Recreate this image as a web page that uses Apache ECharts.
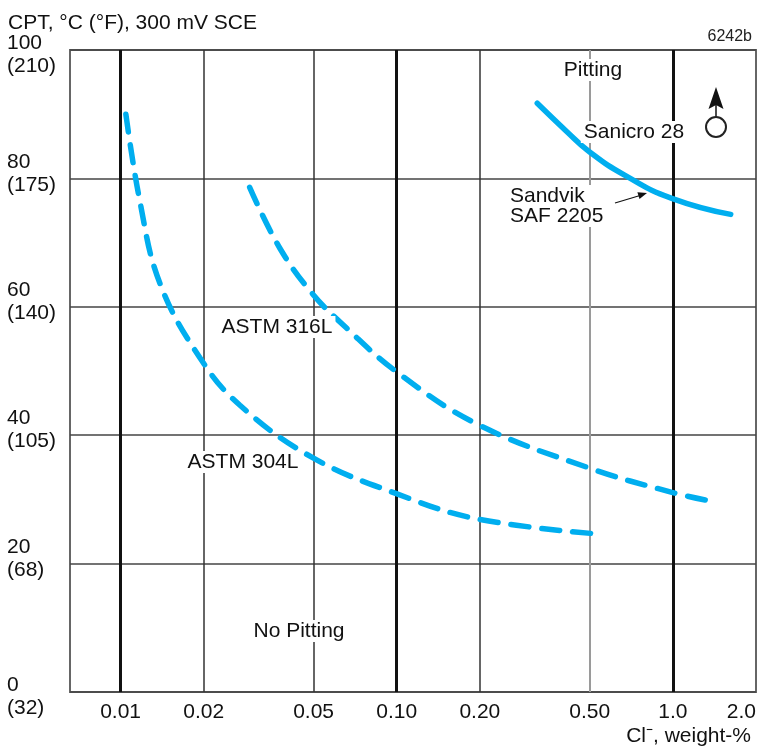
<!DOCTYPE html>
<html>
<head>
    <meta charset="utf-8">
    <script src="https://cdnjs.cloudflare.com/ajax/libs/echarts/6.0.0/echarts.min.js"></script>
</head>
<body>
    <div id="main"></div>
    <style>
html,body { margin: 0; padding: 0; background: #fff; }
#main { width: 759px; height: 749px; }
    </style>
    <script type="text/javascript">
// Cl- weight-% tick values and their labels
var xTicks = [0.01, 0.02, 0.05, 0.1, 0.2, 0.5, 1.0, 2.0];
var xTickLabels = ['0.01', '0.02', '0.05', '0.10', '0.20', '0.50', '1.0', '2.0'];
var xMin = 0.00656;
var xMax = 2.0;

// CPT in degC with the Fahrenheit equivalents
var yTicks = [0, 20, 40, 60, 80, 100];
var yTicksF = ['(32)', '(68)', '(105)', '(140)', '(175)', '(210)'];

// curves: [Cl- weight-%, CPT degC]
var astm304L = [
    [0.01045, 90.0], [0.01174, 76.5], [0.01387, 63.7], [0.01935, 52.1],
    [0.027, 44.7], [0.0496, 36.5], [0.0997, 30.9], [0.194, 27.0], [0.54, 24.6]
];
var astm316L = [
    [0.02934, 78.6], [0.03765, 69.2], [0.0496, 62.0], [0.0658, 56.7],
    [0.0997, 49.9], [0.194, 41.8], [0.497, 34.9], [0.992, 31.1], [1.35, 29.8]
];
var sanicro28 = [
    [0.3228, 91.7], [0.4106, 87.4], [0.497, 84.2], [0.676, 80.4],
    [0.991, 76.9], [1.62, 74.4]
];

var FONT = '"Liberation Sans", Arial, sans-serif';
var BLUE = '#00aeef';

function toLog(points) {
    return points.map(function (p) { return [Math.log10(p[0]), p[1]]; });
}

function xLabel(v) {
    for (var i = 0; i < xTicks.length; i++) {
        if (Math.abs(Math.log10(xTicks[i]) - v) < 1e-6) return xTickLabels[i];
    }
    return '';
}

function yLabel(v) {
    var i = yTicks.indexOf(v);
    if (i < 0) return '';
    var txt = '{a|' + v + '}\n{a|' + yTicksF[i] + '}';
    // edge labels sit a little below their line, the others a little above
    if (i === 0 || i === yTicks.length - 1) return '{s| }\n' + txt;
    return txt + '\n{s| }';
}

var vLines = xTicks.filter(function (v) { return v < xMax; }).map(function (v) {
    var lg = Math.log10(v);
    var style = { color: '#333', width: 1.5, type: 'solid' };
    if (Math.abs(lg - Math.round(lg)) < 1e-9) style = { color: '#111', width: 3, type: 'solid' };
    else if (v === 0.5) style = { color: '#9a9a9a', width: 2, type: 'solid' };
    return { xAxis: lg, lineStyle: style };
});

function note(text, x, y, align) {
    return {
        type: 'text', z: 50,
        style: {
            text: text, x: x, y: y,
            align: align || 'center', verticalAlign: 'middle',
            font: '21px ' + FONT, fill: '#111', lineHeight: 20,
            backgroundColor: '#fff', padding: [1, 3]
        }
    };
}

var option = {
    animation: false,
    title: {
        text: 'CPT, °C (°F), 300 mV SCE',
        left: 3, top: 8,
        textStyle: { fontFamily: FONT, fontSize: 21, fontWeight: 'normal', color: '#111' }
    },
    grid: {
        left: 70, top: 50, width: 687, bottom: 57,
        show: true, borderColor: '#666', borderWidth: 2
    },
    xAxis: {
        type: 'value',
        min: Math.log10(xMin), max: Math.log10(xMax),
        name: 'Cl⁻, weight-%',
        nameLocation: 'end', nameGap: -5,
        nameTextStyle: {
            fontFamily: FONT, fontSize: 21, color: '#111',
            align: 'right', verticalAlign: 'top', padding: [34, 0, 0, 0]
        },
        axisLine: { show: false },
        axisTick: { show: false },
        splitLine: { show: false },
        axisLabel: {
            customValues: xTicks.map(function (v) { return Math.log10(v); }),
            formatter: xLabel,
            margin: 10,
            alignMaxLabel: 'right',
            fontFamily: FONT, fontSize: 21, color: '#111'
        }
    },
    yAxis: {
        type: 'value', min: 0, max: 100, interval: 20,
        axisLine: { show: false },
        axisTick: { show: false },
        splitLine: { lineStyle: { color: '#444', width: 1.5 } },
        axisLabel: {
            formatter: yLabel,
            align: 'left', margin: 63,
            rich: {
                a: { fontFamily: FONT, fontSize: 21, lineHeight: 23, color: '#111' },
                s: { fontSize: 1, lineHeight: 10 }
            }
        }
    },
    series: [
        {
            name: 'grid', type: 'line', data: [], z: 1, silent: true,
            markLine: { silent: true, symbol: 'none', label: { show: false }, data: vLines }
        },
        {
            name: 'ASTM 304L', type: 'line', z: 5, smooth: 0.4, showSymbol: false,
            data: toLog(astm304L),
            lineStyle: { color: BLUE, width: 5.5, type: [18, 13], cap: 'round' }
        },
        {
            name: 'ASTM 316L', type: 'line', z: 5, smooth: 0.4, showSymbol: false,
            data: toLog(astm316L),
            lineStyle: { color: BLUE, width: 5.5, type: [18, 13], cap: 'round' }
        },
        {
            name: 'Sanicro 28', type: 'line', z: 5, smooth: 0.5, showSymbol: false,
            data: toLog(sanicro28),
            lineStyle: { color: BLUE, width: 5.5, cap: 'round' }
        }
    ],
    graphic: [
        {
            type: 'text', z: 50,
            style: { text: '6242b', x: 752, y: 37, align: 'right', verticalAlign: 'middle',
                font: '16px ' + FONT, fill: '#222' }
        },
        note('Pitting', 593, 70),
        note('Sanicro 28', 634, 132),
        {
            type: 'text', z: 50,
            style: { text: 'Sandvik\nSAF 2205', x: 507, y: 206, align: 'left', verticalAlign: 'middle',
                font: '21px ' + FONT, fill: '#111', lineHeight: 20, backgroundColor: '#fff', padding: [1, 3] }
        },
        { type: 'line', z: 50, shape: { x1: 615, y1: 203, x2: 640, y2: 195.5 }, style: { stroke: '#111', lineWidth: 1.2 } },
        { type: 'polygon', z: 50, shape: { points: [[647, 193], [639.5, 199], [637.4, 192.3]] }, style: { fill: '#111' } },
        note('ASTM 316L', 277, 327),
        note('ASTM 304L', 243, 462),
        note('No Pitting', 299, 631),
        { type: 'polygon', z: 50, shape: { points: [[716, 87], [708.5, 109], [716, 105], [723.5, 109]] }, style: { fill: '#111' } },
        { type: 'line', z: 50, shape: { x1: 716, y1: 104, x2: 716, y2: 117 }, style: { stroke: '#111', lineWidth: 1.5 } },
        { type: 'circle', z: 50, shape: { cx: 716, cy: 127, r: 10 }, style: { fill: '#fff', stroke: '#222', lineWidth: 2 } }
    ]
};

var chart = echarts.init(document.getElementById('main'));
chart.setOption(option);
    </script>
</body>
</html>
